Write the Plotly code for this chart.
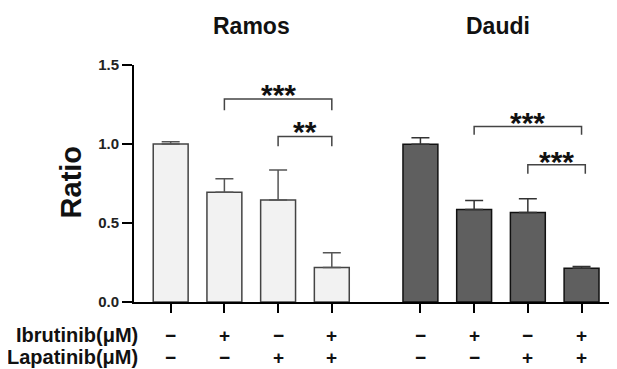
import plotly.graph_objects as go

# ---- data ----
groups = ["Ramos", "Daudi"]
ramos_vals = [1.00, 0.695, 0.645, 0.219]
ramos_err = [0.015, 0.085, 0.19, 0.093]
daudi_vals = [0.998, 0.585, 0.566, 0.214]
daudi_err = [0.042, 0.057, 0.088, 0.011]
ibrutinib = ["−", "+", "−", "+"]
lapatinib = ["−", "−", "+", "+"]
row_labels = ["Ibrutinib(μM)", "Lapatinib(μM)"]
ramos_pos = [0, 1, 2, 3]
daudi_pos = [4.65, 5.65, 6.65, 7.65]
# brackets: (x1, x2, top, leg_bottom, label, label_y)
brackets = [
    (1, 3, 1.285, 1.213, "***", 1.343),
    (2, 3, 1.048, 0.985, "**", 1.108),
    (5.65, 7.65, 1.111, 1.059, "***", 1.168),
    (6.65, 7.72, 0.869, 0.812, "***", 0.918),
]
y_ticks = [0, 0.5, 1.0, 1.5]
y_ticktext = ["0.0", "0.5", "1.0", "1.5"]

FONT = "Arial, Liberation Sans, sans-serif"
YMAX = 1.5

fig = go.Figure()
fig.add_trace(go.Bar(
    x=ramos_pos, y=ramos_vals, width=0.65,
    marker=dict(color="#f2f2f2", line=dict(color="#444444", width=1.5)),
    error_y=dict(type="data", array=ramos_err, arrayminus=[0]*4, symmetric=False,
                 color="#555555", thickness=1.5, width=9),
    showlegend=False,
))
fig.add_trace(go.Bar(
    x=daudi_pos, y=daudi_vals, width=0.65,
    marker=dict(color="#5f5f5f", line=dict(color="#111111", width=1.5)),
    error_y=dict(type="data", array=daudi_err, arrayminus=[0]*4, symmetric=False,
                 color="#333333", thickness=1.5, width=9),
    showlegend=False,
))

# brackets
for x1, x2, top, bot, lab, ly in brackets:
    fig.add_shape(type="path",
                  path=f"M {x1},{bot} L {x1},{top} L {x2},{top} L {x2},{bot}",
                  xref="x", yref="y", line=dict(color="#444444", width=1.5))
    fig.add_annotation(x=(x1 + x2) / 2, y=ly, xref="x", yref="y", text=f"<b>{lab}</b>",
                       showarrow=False, font=dict(family=FONT, size=30, color="#111111"),
                       yanchor="middle", yshift=-5)

# group titles
for name, pos in zip(groups, [ramos_pos, daudi_pos]):
    cx = (pos[0] + pos[-1]) / 2
    fig.add_annotation(x=cx - (0.06 if name == "Daudi" else 0), y=1.744 / YMAX,
                       xref="x", yref="paper", xanchor="center", yanchor="middle",
                       text=f"<b>{name}</b>", showarrow=False,
                       font=dict(family=FONT, size=23, color="#111111"))

# +/- rows
all_pos = ramos_pos + daudi_pos
row_y = [-0.211 / YMAX, -0.351 / YMAX]
for signs, ry in [(ibrutinib + ibrutinib, row_y[0]), (lapatinib + lapatinib, row_y[1])]:
    for xp, s in zip(all_pos, signs):
        fig.add_annotation(x=xp, y=ry, xref="x", yref="paper", text=f"<b>{s}</b>",
                           xanchor="center", yanchor="middle",
                           showarrow=False, font=dict(family=FONT, size=19, color="#111111"))
for lab, ry in zip(row_labels, row_y):
    fig.add_annotation(x=0.0124, y=ry, xref="paper", yref="paper", text=f"<b>{lab}</b>",
                       xanchor="right", yanchor="middle", showarrow=False,
                       font=dict(family=FONT, size=20, color="#111111"))

fig.add_annotation(x=-0.130, y=0.758 / YMAX, xref="paper", yref="paper", text="<b>Ratio</b>",
                   textangle=-90, showarrow=False, xanchor="center", yanchor="middle",
                   font=dict(family=FONT, size=29, color="#111111"))

# page body adds an 8px margin; compensate
fig.update_layout(
    width=609, height=361,
    margin=dict(l=126, r=0, t=57, b=67),
    plot_bgcolor="white", paper_bgcolor="white",
    barmode="overlay",
    xaxis=dict(range=[-0.683, 8.31], showline=True, linecolor="black", linewidth=2,
               ticks="outside", tickvals=all_pos, ticklen=9, tickwidth=2, tickcolor="black",
               showticklabels=False, showgrid=False, zeroline=False),
    yaxis=dict(range=[0, YMAX], showline=True, linecolor="black", linewidth=2,
               ticks="outside", tickvals=y_ticks, ticktext=y_ticktext, ticklen=10,
               tickwidth=2, tickcolor="black", showgrid=False, zeroline=False,
               tickfont=dict(family=FONT, size=15, color="#222222", weight="bold")),
)
fig.write_html("out.html")
